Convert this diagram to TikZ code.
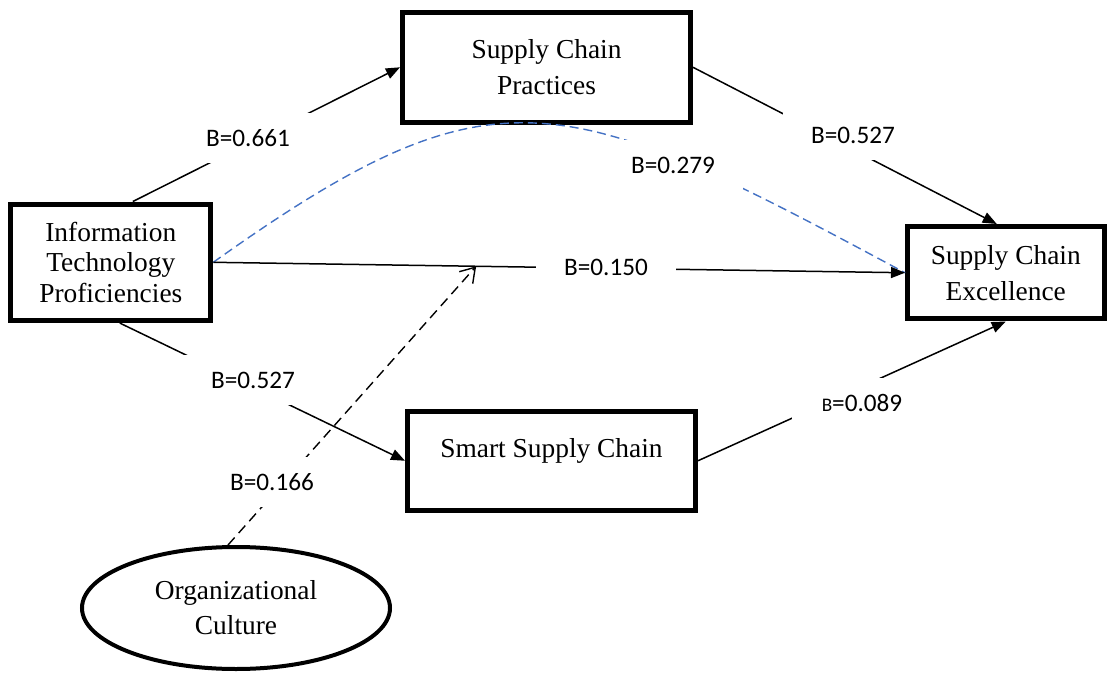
\documentclass[tikz,border=0pt]{standalone}
\usepackage{fontspec}
\setmainfont{Liberation Serif}
\newfontfamily\coeffont{Carlito}
\usetikzlibrary{positioning,arrows.meta,calc,shapes.geometric}
\definecolor{pathBlue}{RGB}{68,114,196}

\begin{document}
\begin{tikzpicture}[
  x=0.5pt, y=-0.5pt,
  boxNode/.style={rectangle, draw, line width=2.5pt, inner sep=0pt,
                  align=center, font=\fontsize{13.7}{18}\selectfont},
  ovalNode/.style={ellipse, draw, line width=2pt, inner sep=0pt,
                   align=center, font=\fontsize{13.7}{17.5}\selectfont},
  coefLabel/.style={fill=white, inner sep=0pt, minimum width=70pt,
                    minimum height=25pt,
                    font=\coeffont\fontsize{12.6}{14}\selectfont},
  link/.style={line width=0.75pt},
  >={Triangle[length=7pt,width=5.5pt]}
]
  \useasboundingbox (0,0) rectangle (1107,673);

  % constructs
  \node[boxNode, minimum width=100pt, minimum height=58.25pt,
        font=\fontsize{13.7}{15.3}\selectfont] (itp) at (110.8,262.3)
        {Information\\Technology\\Proficiencies};
  \node[boxNode, minimum width=144pt, minimum height=54.75pt] (scp)
        at (546.5,67.3) {Supply Chain\\Practices};
  \node[boxNode, minimum width=98.25pt, minimum height=46.25pt] (sce)
        at (1005.75,272.75) {Supply Chain\\Excellence};
  \node[boxNode, minimum width=144pt, minimum height=49.75pt,
        text height=10pt, text depth=13.2pt] (ssc)
        at (551.5,460.75) {Smart Supply Chain};
  \node[ovalNode, minimum width=154pt, minimum height=61pt] (oc)
        at (236,608) {Organizational\\Culture};

  % paths
  \coordinate (mod) at ($(itp.east)!0.38!(sce.west)$);
  \draw[link, pathBlue, line width=0.7pt, dash pattern=on 4.5pt off 2.5pt]
    (itp.east) .. controls (496,61) and (563,89) .. (sce.west);
  \draw[link, ->] ($(itp.north)+(22,0)$) -- (scp.west);
  \draw[link, ->] (scp.east) -- ($(sce.north)+(-9,0)$);
  \draw[link, ->] (itp.east) -- (sce.west);
  \draw[link, ->] ($(itp.south)+(9,0)$) -- (ssc.west);
  \draw[link, ->] (ssc.east) -- (sce.south);
  \draw[link, line width=0.7pt, dash pattern=on 5pt off 3pt,
        -{Straight Barb[length=7pt,width=9pt]}]
    ($(oc.north)+(-8,0)$) -- (mod);

  % coefficients
  \node[coefLabel] (b661) at (248,138) {B=0.661};
  \node[coefLabel] (b527a) at (853,135) {B=0.527};
  \node[coefLabel] (b279) at (673,165) {B=0.279};
  \node[coefLabel] (b150) at (606,267) {B=0.150};
  \node[coefLabel] (b527b) at (253,380) {B=0.527};
  \node[coefLabel] (b089) at (862,403)
        {{\fontsize{9.6}{10}\selectfont B}=0.089};
  \node[coefLabel] (b166) at (272,482) {B=0.166};
\end{tikzpicture}
\end{document}
